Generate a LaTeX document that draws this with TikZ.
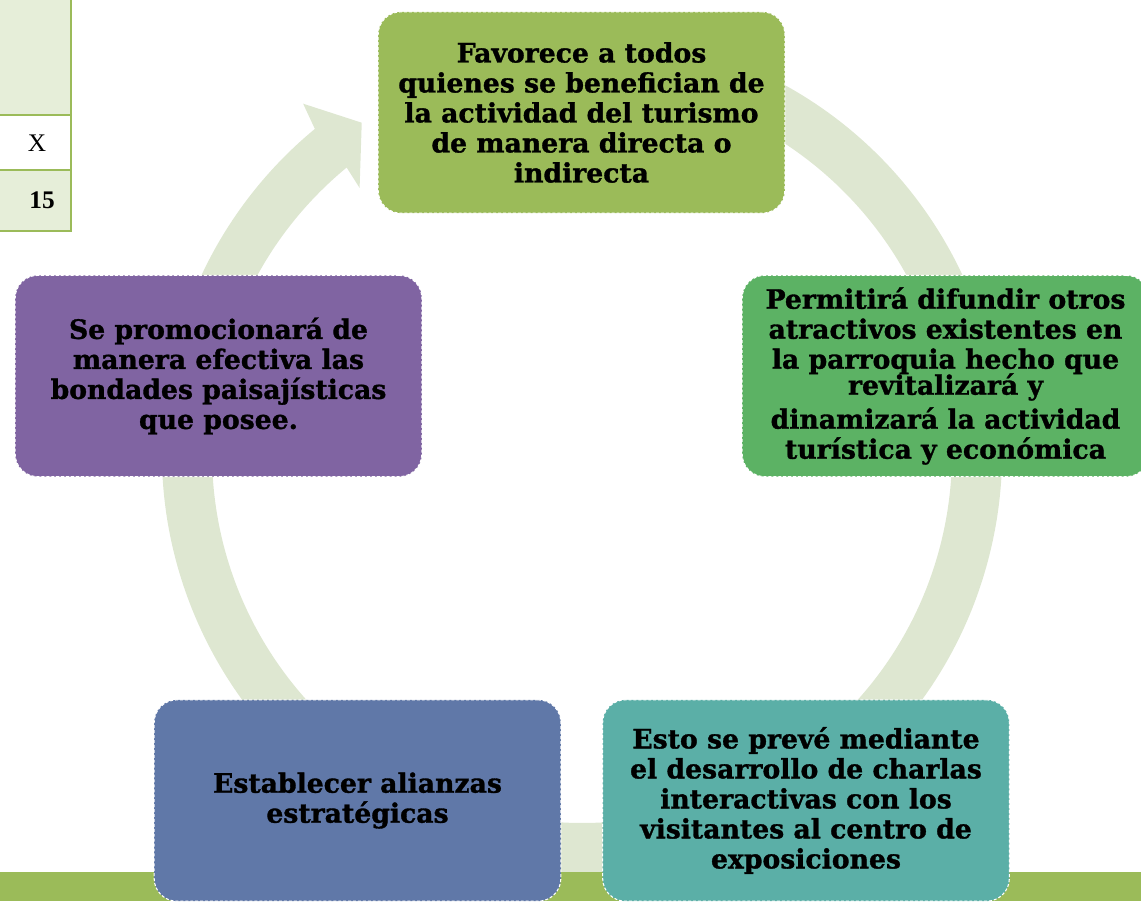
\documentclass[tikz,border=0pt]{standalone}
\usepackage{fontspec}
\setmainfont{DejaVu Serif}[BoldFeatures={FakeBold=1.2}]
\newfontfamily\tablafont{Liberation Serif}
\usepackage{tikz}
\usetikzlibrary{positioning}

\definecolor{verdeoliva}{HTML}{9BBB59}
\definecolor{verdemedio}{HTML}{5CB264}
\definecolor{turquesa}{HTML}{5BAFA7}
\definecolor{azulgris}{HTML}{6078A8}
\definecolor{morado}{HTML}{8064A2}
\definecolor{anillo}{HTML}{DEE7D1}
\definecolor{celda}{HTML}{E6EED9}

\begin{document}
\begin{tikzpicture}[x=0.75pt, y=0.75pt,
  caja/.style={rectangle, rounded corners=17pt, minimum width=305pt, minimum height=151pt,
    draw=white, line width=0.8pt, dash pattern=on 2.2pt off 1.5pt, inner sep=0pt,
    align=center, font=\fontsize{20}{22.5}\selectfont\bfseries},
  celdatxt/.style={inner sep=0pt, font=\tablafont\fontsize{19}{22}\selectfont}]
  \useasboundingbox (0,0) rectangle (1141,901);
  \clip (0,0) rectangle (1141,901);
  \coordinate (C) at (582,448);
  % anillo con punta de flecha
  \fill[anillo] ([shift={(C)}]75:420) arc[start angle=75, end angle=-230.5, radius=420]
    -- ([shift={(C)}]128.6:447) -- ([shift={(C)}]123.7:397) -- ([shift={(C)}]130:346)
    -- ([shift={(C)}]129.5:370) arc[start angle=-230.5, end angle=75, radius=370] -- cycle;
  % franja inferior
  \fill[verdeoliva] (0,0) rectangle (1141,29);
  % resto de tabla
  \fill[celda] (0,901) rectangle (72,786);
  \fill[celda] (0,731) rectangle (72,670);
  \draw[verdeoliva, line width=1.5pt] (71,901) -- (71,670);
  \draw[verdeoliva, line width=1.5pt] (0,786) -- (72,786) (0,731) -- (72,731) (0,670) -- (72,670);
  \node[celdatxt] (celdaX) at (37,758) {X};
  \node[celdatxt, font=\tablafont\fontsize{19}{22}\selectfont\bfseries] (celda15) at (42,701) {15};
  % cajas
  \node[caja, fill=verdeoliva] (favorece) at (581.5,788.5)
    {Favorece a todos\\quienes se benefician de\\la actividad del turismo\\de manera directa o\\indirecta};
  \node[caja, fill=verdemedio] (permitira) at (945.5,525)
    {Permitirá difundir otros\\atractivos existentes en\\la parroquia hecho que\\[-3pt]revitalizará y\\[3pt]dinamizará la actividad\\turística y económica};
  \node[caja, fill=turquesa] (charlas) at (806,100.5)
    {Esto se prevé mediante\\el desarrollo de charlas\\interactivas con los\\visitantes al centro de\\exposiciones};
  \node[caja, fill=azulgris] (alianzas) at (357.5,100.5)
    {Establecer alianzas\\estratégicas};
  \node[caja, fill=morado] (promocion) at (218.5,525)
    {Se promocionará de\\manera efectiva las\\bondades paisajísticas\\que posee.};
\end{tikzpicture}
\end{document}
